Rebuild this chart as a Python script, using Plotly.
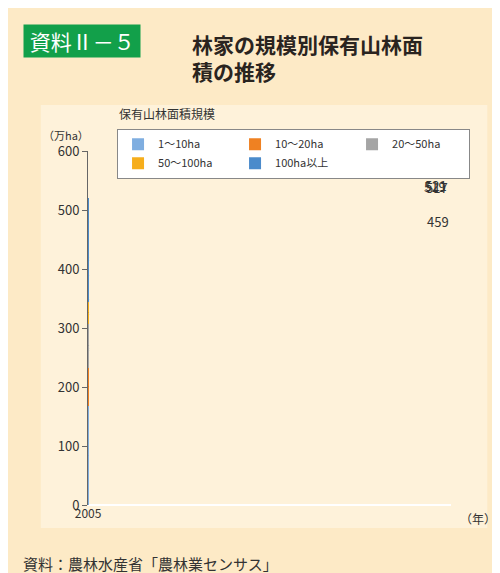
import plotly.graph_objects as go

years = ["2005", "2010", "2015", "2020"]
series_names = ["1～10ha", "10～20ha", "20～50ha", "50～100ha", "100ha以上"]
v1_10 = [223, 220, 202, 168]
v10_20 = [83, 83, 77, 65]
v20_50 = [91, 90, 88, 74]
v50_100 = [44, 43, 43, 37]
v100 = [77, 85, 108, 116]
totals = [519, 521, 517, 459]
colors = ["#7FAEE0", "#EF8122", "#A5A5A5", "#F6AE1C", "#4B8BCB"]

F = "Noto Sans CJK JP"
fig = go.Figure()
for name, vals, c in zip(series_names, [v1_10, v10_20, v20_50, v50_100, v100], colors):
    fig.add_bar(x=years, y=vals, name=name, marker=dict(color=c, line=dict(width=0)),
                text=vals, textposition="inside", insidetextanchor="middle",
                textfont=dict(size=13, color="#333", family=F), width=0.6)
for y_, t in zip(years, totals):
    fig.add_annotation(x=y_, y=t, text=str(t), showarrow=False, yanchor="bottom", yshift=1,
                       font=dict(size=13, color="#333", family=F))

fig.add_shape(type="rect", xref="paper", yref="paper", x0=-0.13, x1=1.1, y0=-0.065, y1=1.13,
              fillcolor="#FEF2DA", line=dict(width=0), layer="below")

fig.update_layout(
    width=500, height=573, barmode="stack", bargap=0.4,
    paper_bgcolor="#FDEAC6", plot_bgcolor="white",
    margin=dict(l=80, r=57, t=143, b=76),
    font=dict(family=F, color="#333"),
    showlegend=True,
    legend=dict(orientation="h", x=0.08, y=1.063, xanchor="left", yanchor="top",
                bgcolor="white", bordercolor="#888", borderwidth=1,
                entrywidth=72, entrywidthmode="pixels",
                font=dict(size=11, family=F), traceorder="normal",
                itemsizing="constant"),
    xaxis=dict(type="category", showline=False, ticks="", tickfont=dict(size=12, family=F)),
    yaxis=dict(range=[0, 600], dtick=100, showgrid=False, ticks="outside", ticklen=5,
               tickcolor="#666", showline=True, linecolor="#666", tickfont=dict(size=13, family=F)),
)
fig.add_annotation(xref="paper", yref="paper", x=-0.06, y=0.999, text="（万ha）", showarrow=False,
                   xanchor="center", yanchor="bottom", yshift=6, font=dict(size=11, family=F))
fig.add_annotation(xref="paper", yref="paper", x=1.02, y=0, text="（年）", showarrow=False,
                   xanchor="left", yanchor="top", yshift=-3, font=dict(size=12, family=F))
fig.add_annotation(xref="paper", yref="paper", x=0.08, y=1.075, text="保有山林面積規模", showarrow=False,
                   xanchor="left", yanchor="bottom", font=dict(size=12, family=F))
fig.add_annotation(xref="paper", yref="paper", x=-0.18, y=1.31, text=" 資料Ⅱ－５ ", showarrow=False,
                   xanchor="left", yanchor="middle", bgcolor="#12A04A", font=dict(size=21, color="white", family=F))
fig.add_annotation(xref="paper", yref="paper", x=0.28, y=1.35, xanchor="left", yanchor="top",
                   text="<b>林家の規模別保有山林面<br>積の推移</b>", showarrow=False, align="left",
                   font=dict(size=21, color="#2A2420", family=F))
fig.add_annotation(xref="paper", yref="paper", x=-0.185, y=-0.13, xanchor="left", yanchor="top",
                   text="資料：農林水産省「農林業センサス」", showarrow=False,
                   font=dict(size=15, color="#333", family=F))
fig.write_html("out.html")
